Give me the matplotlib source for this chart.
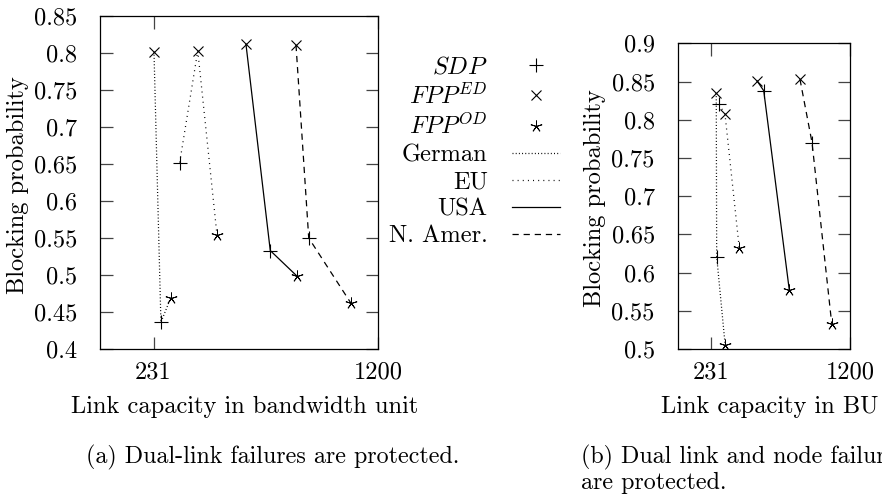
import matplotlib
matplotlib.use("Agg")
import matplotlib.pyplot as plt
from matplotlib.lines import Line2D

plt.rcParams['font.family'] = 'serif'
plt.rcParams['font.serif'] = ['cmr10', 'DejaVu Serif']
plt.rcParams['mathtext.fontset'] = 'cm'
plt.rcParams['axes.formatter.use_mathtext'] = True
plt.rcParams['lines.scale_dashes'] = False

FS = 17.6      # plot text
CFS = 17.3     # caption text

# ---- data (a) Dual-link failures ----
networks = ["German", "EU", "USA", "N. Amer."]
a_cap = {
    "German":   [233, 263, 305],
    "EU":       [344, 422, 505],
    "USA":      [630, 735, 852],
    "N. Amer.": [846, 901, 1083],
}
a_blk = {
    "German":   [0.802, 0.436, 0.469],
    "EU":       [0.652, 0.803, 0.554],
    "USA":      [0.812, 0.533, 0.498],
    "N. Amer.": [0.811, 0.550, 0.462],
}
a_sch = {
    "German":   ["ED", "SDP", "OD"],
    "EU":       ["SDP", "ED", "OD"],
    "USA":      ["ED", "SDP", "OD"],
    "N. Amer.": ["ED", "SDP", "OD"],
}
# ---- data (b) Dual link and node failures ----
b_cap = {
    "German":   [268, 271, 330],
    "EU":       [289, 329, 428],
    "USA":      [551, 598, 776],
    "N. Amer.": [850, 934, 1071],
}
b_blk = {
    "German":   [0.835, 0.621, 0.505],
    "EU":       [0.820, 0.807, 0.632],
    "USA":      [0.851, 0.838, 0.577],
    "N. Amer.": [0.853, 0.770, 0.533],
}
b_sch = {
    "German":   ["ED", "SDP", "OD"],
    "EU":       ["SDP", "ED", "OD"],
    "USA":      ["ED", "SDP", "OD"],
    "N. Amer.": ["ED", "SDP", "OD"],
}
x_ticks = [231, 1200]
a_yticks = [0.4, 0.45, 0.5, 0.55, 0.6, 0.65, 0.7, 0.75, 0.8, 0.85]
b_yticks = [0.5, 0.55, 0.6, 0.65, 0.7, 0.75, 0.8, 0.85, 0.9]

scheme_labels = {"SDP": "$SDP$", "ED": "$FPP^{ED}$", "OD": "$FPP^{OD}$"}
markers = {"SDP": "+", "ED": "x", "OD": (5, 2, 0)}
msize = {"SDP": 9.5, "ED": 7.5, "OD": 8.5}
mew = {"SDP": 0.8, "ED": 0.8, "OD": 0.65}
styles = {
    "German": (0, (0.7, 1.6)),
    "EU": (0, (0.7, 3.0)),
    "USA": "-",
    "N. Amer.": (0, (4.5, 3.5)),
}

fig = plt.figure(figsize=(8.82, 5.01), dpi=100)
W, H = 882, 501

def make_ax(left, top, right, bottom):
    return fig.add_axes([left / W, 1 - bottom / H, (right - left) / W, (bottom - top) / H])

axa = make_ax(100, 16, 378, 349)
axb = make_ax(677.7, 43.3, 850.3, 349)

def draw(ax, cap, blk, sch, yticks, ylim):
    for n in networks:
        ax.plot(cap[n], blk[n], linestyle=styles[n], color='black', lw=0.9)
        for x, y, s in zip(cap[n], blk[n], sch[n]):
            ax.plot([x], [y], linestyle='none', marker=markers[s], color='black',
                    markersize=msize[s], markeredgewidth=mew[s])
    ax.set_xlim(0, 1200)
    ax.set_ylim(*ylim)
    ax.set_xticks(x_ticks)
    ax.set_xticklabels([str(t) for t in x_ticks])
    ax.set_yticks(yticks)
    ax.set_yticklabels(['%g' % t for t in yticks])
    ax.tick_params(direction='in', length=9, width=0.9, color='#444444',
                   top=True, right=True, labelsize=FS)
    ax.tick_params(axis='y', pad=16.5)
    ax.tick_params(axis='x', pad=9)
    for sp in ax.spines.values():
        sp.set_linewidth(0.9)

draw(axa, a_cap, a_blk, a_sch, a_yticks, (0.4, 0.85))
draw(axb, b_cap, b_blk, b_sch, b_yticks, (0.5, 0.9))

fig.text(18 / W, 1 - 185.5 / H, "Blocking probability", fontsize=FS,
         rotation=90, ha='center', va='center')
fig.text(595 / W, 1 - 198.5 / H, "Blocking probability", fontsize=FS,
         rotation=90, ha='center', va='center')

fig.text(245 / W, 1 - 407 / H, "Link capacity in bandwidth unit", fontsize=FS,
         ha='center', va='center')
fig.text(770 / W, 1 - 407 / H, "Link capacity in BU", fontsize=FS,
         ha='center', va='center')
fig.text(86 / W, 1 - 457 / H, "(a) Dual-link failures are protected.", fontsize=CFS,
         ha='left', va='center')
fig.text(581 / W, 1 - 457 / H, "(b) Dual link and node failures", fontsize=CFS,
         ha='left', va='center')
fig.text(581 / W, 1 - 483 / H, "are protected.", fontsize=CFS,
         ha='left', va='center')

handles = []
labels = []
for s in ["SDP", "ED", "OD"]:
    handles.append(Line2D([], [], linestyle='none', marker=markers[s], color='black',
                          markersize=msize[s], markeredgewidth=mew[s]))
    labels.append(scheme_labels[s])
for n in networks:
    handles.append(Line2D([], [], linestyle=styles[n], color='black', lw=0.9))
    labels.append(n)

fig.legend(handles, labels, markerfirst=False, frameon=False, fontsize=FS,
           loc='upper right', bbox_to_anchor=(560 / W, 1 - 56 / H),
           handlelength=1.96, labelspacing=0.2, handletextpad=1.0,
           borderpad=0, borderaxespad=0)

fig.savefig("out.png", dpi=100)
